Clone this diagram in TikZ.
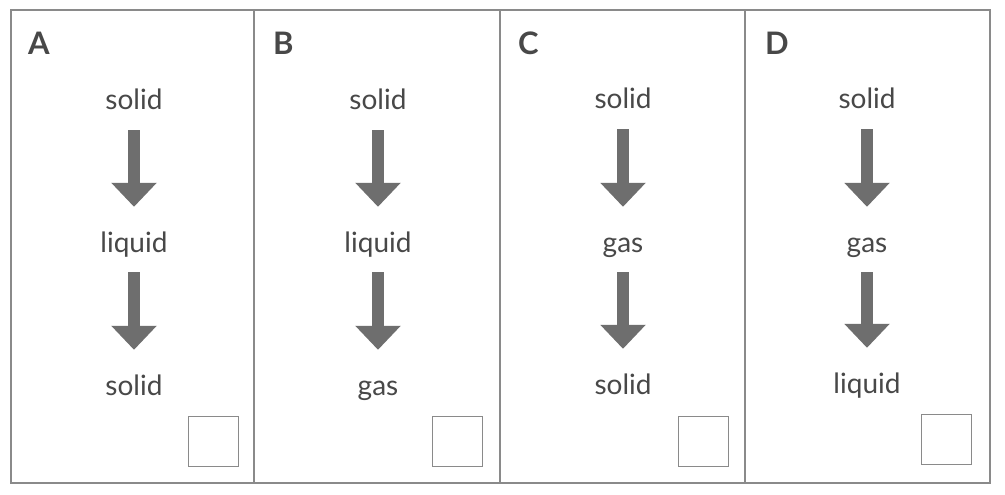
\documentclass[tikz,border=0pt]{standalone}
\usepackage{fontspec}
\setmainfont{Lato}
\usepackage{xcolor}
\usetikzlibrary{arrows.meta, positioning}

\definecolor{framegray}{HTML}{8A8A8A}
\definecolor{arrowgray}{HTML}{6E6E6E}
\definecolor{textgray}{HTML}{484848}

\tikzset{
  word/.style={inner sep=0pt, text height=22pt, text depth=0pt, anchor=base,
    text=textgray, font=\fontsize{28}{30}\selectfont},
  letter/.style={inner sep=0pt, anchor=north west, text=textgray,
    font=\fontsize{31}{32}\selectfont\bfseries},
  change/.style={draw=arrowgray, line width=12pt,
    -{Triangle[width=44pt,length=24pt]}, shorten <=20pt, shorten >=23pt},
  tickbox/.style={draw=framegray, line width=1.3pt, minimum size=50pt,
    inner sep=0pt, anchor=north west}
}

\begin{document}
\begin{tikzpicture}[x=1pt, y=-1pt]
  \path[fill=white, use as bounding box] (0, 0) rectangle (1005, 495);
  % frame and panels
  \draw[framegray, line width=1.5pt] (11, 10) rectangle (990, 483);
  \draw[framegray, line width=1.5pt]
    (254, 10) -- (254, 483)
    (500, 10) -- (500, 483)
    (745, 10) -- (745, 483);

  % panel A
  \node[letter] (la) at (28, 32) {A};
  \node[word] (a1) at (134, 110) {solid};
  \node[word] (a2) at (134, 252) {liquid};
  \node[word] (a3) at (134, 395) {solid};
  \node[tickbox] (ba) at (188, 416) {};
  \draw[change] (a1) -- (a2);
  \draw[change] (a2) -- (a3);

  % panel B
  \node[letter] (lb) at (273, 32) {B};
  \node[word] (b1) at (378, 110) {solid};
  \node[word] (b2) at (378, 252) {liquid};
  \node[word] (b3) at (378, 395) {gas};
  \node[tickbox] (bb) at (432, 416) {};
  \draw[change] (b1) -- (b2);
  \draw[change] (b2) -- (b3);

  % panel C
  \node[letter] (lc) at (518, 32) {C};
  \node[word] (c1) at (623, 109) {solid};
  \node[word] (c2) at (623, 252) {gas};
  \node[word] (c3) at (623, 394) {solid};
  \node[tickbox] (bc) at (678, 416) {};
  \draw[change] (c1) -- (c2);
  \draw[change] (c2) -- (c3);

  % panel D
  \node[letter] (ld) at (765, 32) {D};
  \node[word] (d1) at (867, 109) {solid};
  \node[word] (d2) at (867, 252) {gas};
  \node[word] (d3) at (867, 393) {liquid};
  \node[tickbox] (bd) at (921, 414) {};
  \draw[change] (d1) -- (d2);
  \draw[change] (d2) -- (d3);
\end{tikzpicture}
\end{document}
